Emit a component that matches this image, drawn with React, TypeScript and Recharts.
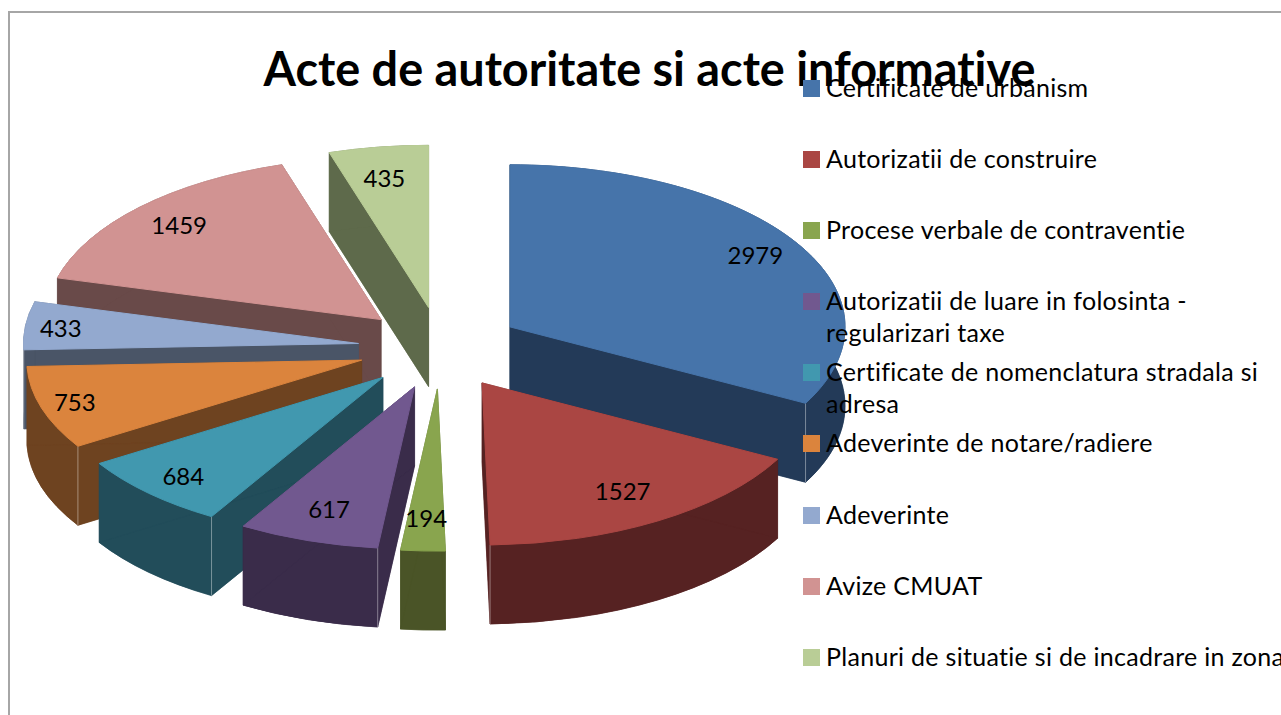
import React from "react";
import { Legend, Pie, PieChart } from "recharts";

const categories = [
  "Certificate de urbanism",
  "Autorizatii de construire",
  "Procese verbale de contraventie",
  "Autorizatii de luare in folosinta -\nregularizari taxe",
  "Certificate de nomenclatura stradala si\nadresa",
  "Adeverinte de notare/radiere",
  "Adeverinte",
  "Avize CMUAT",
  "Planuri de situatie si de incadrare in zona",
];
const values = [2979, 1527, 194, 617, 684, 753, 433, 1459, 435];
const topColors = ["#4674AA", "#AA4643", "#89A54E", "#71588F", "#4198AF", "#DB843D", "#93A9CF", "#D19392", "#B9CD96"];
const wallColors = ["#233A58", "#562222", "#4A5427", "#3A2C4A", "#224D5A", "#6E4320", "#4A5567", "#694A49", "#5E6A4B"];

const FONT = "Lato, sans-serif";
const TILT = 0.484;
const DEPTH = 79;
const RADIUS = 335;
const total = values.reduce((a, b) => a + b, 0);

// small hand tweaks of the value labels, by value
const labelNudge: Record<number, [number, number]> = {
  2979: [4, -2],
  1527: [-7, -8],
  194: [1, -8],
  617: [4, -7],
  684: [-3, 1],
  753: [-18, 1],
  433: [-18, -1],
  1459: [1, -1],
  435: [-2, 5],
};

// painted back to front: blue first, then counter-clockwise round to red
const paintOrder = [0, 8, 7, 6, 5, 4, 3, 2, 1];
const pieData = paintOrder.map((i) => ({
  name: categories[i],
  value: values[i],
  fill: topColors[i],
  wall: wallColors[i],
}));
const startAngle = 90 - (360 * values[0]) / total;

const rad = (d: number) => (d * Math.PI) / 180;

// apex of an exploded slice, squashed to the pie's tilt
function apexOf(cx: number, cy: number, midCw: number) {
  const s = Math.sin(rad(midCw));
  const x = s >= 0 ? cx + 84 * s : cx + 80 * s + 3 * (1 + s);
  return { x, y: cy - 41 * Math.cos(rad(midCw)) };
}

function rimPoint(ax: number, ay: number, r: number, cw: number) {
  return { x: ax + r * Math.sin(rad(cw)), y: ay - r * TILT * Math.cos(rad(cw)) };
}

function Slice3D(props: any) {
  const { cx, cy, outerRadius: r, startAngle: sa, endAngle: ea, fill, wall } = props;
  // recharts hands math angles going counter-clockwise; turn into clockwise from 12 o'clock
  const cwEnd = ((90 - sa) % 360 + 360) % 360;
  const cwStart = ((90 - ea) % 360 + 360) % 360;
  const sweep = ea - sa;
  const mid = cwStart + sweep / 2;
  const a = apexOf(cx, cy, mid);
  const p0 = rimPoint(a.x, a.y, r, cwStart);
  const p1 = rimPoint(a.x, a.y, r, cwEnd);
  const large = sweep > 180 ? 1 : 0;
  const arc = `A ${r} ${r * TILT} 0 ${large} 1`;
  const arcBack = `A ${r} ${r * TILT} 0 ${large} 0`;
  const top = `M ${a.x} ${a.y} L ${p0.x} ${p0.y} ${arc} ${p1.x} ${p1.y} Z`;
  const d = DEPTH;
  const sides = [
    `M ${a.x} ${a.y} L ${p0.x} ${p0.y} L ${p0.x} ${p0.y + d} L ${a.x} ${a.y + d} Z`,
    `M ${a.x} ${a.y} L ${p1.x} ${p1.y} L ${p1.x} ${p1.y + d} L ${a.x} ${a.y + d} Z`,
    `M ${p0.x} ${p0.y} ${arc} ${p1.x} ${p1.y} L ${p1.x} ${p1.y + d} ${arcBack} ${p0.x} ${p0.y + d} Z`,
    `M ${a.x} ${a.y + d} L ${p0.x} ${p0.y + d} ${arc} ${p1.x} ${p1.y + d} Z`,
  ];
  const crease =
    cwEnd > 90 && cwEnd < 180 ? p1 : cwStart > 180 && cwStart < 270 ? p0 : null;
  return (
    <g>
      {sides.map((s, i) => (
        <path key={i} d={s} fill={wall} stroke={wall} strokeWidth={0.5} />
      ))}
      {crease && (
        <line x1={crease.x} y1={crease.y} x2={crease.x} y2={crease.y + d} stroke="#fff" strokeOpacity={0.4} />
      )}
      <path d={top} fill={fill} stroke={fill} strokeWidth={1} />
    </g>
  );
}

function sliceLabel(props: any) {
  const { cx, cy, outerRadius: r, midAngle, value } = props;
  const mid = 90 - midAngle;
  const a = apexOf(cx, cy, mid);
  const p = rimPoint(a.x, a.y, r * 0.84, mid);
  const [dx, dy] = labelNudge[value] ?? [0, 0];
  return (
    <text x={p.x + dx} y={p.y + dy} textAnchor="middle" dominantBaseline="central" fontFamily={FONT} fontSize={24} fill="#000" style={{ fontVariantLigatures: "none" }}>
      {value}
    </text>
  );
}

function LegendList() {
  return (
    <div style={{ fontFamily: FONT, fontSize: 25, letterSpacing: 0.3, lineHeight: "31.5px", color: "#000", fontVariantLigatures: "none" }}>
      {categories.map((c, i) => (
        <div key={c} style={{ position: "relative", paddingLeft: 23, height: 71.1, whiteSpace: "pre" }}>
          <span
            style={{ position: "absolute", left: 0, top: 8, width: 17, height: 17, background: topColors[i] }}
          />
          {c}
        </div>
      ))}
    </div>
  );
}

export default function App() {
  return (
    <div style={{ position: "absolute", left: 0, top: 0, width: 1281, height: 715, overflow: "hidden", background: "#fff" }}>
      <div
        style={{ position: "absolute", left: 8, top: 11, width: 1300, height: 800, border: "2px solid #a6a6a6", boxSizing: "border-box" }}
      />
      <PieChart width={1281} height={715} margin={{ top: 0, right: 0, bottom: 0, left: 0 }}>
        <text x={649.5} y={68} textAnchor="middle" dominantBaseline="central" fontFamily={FONT} fontWeight={700} fontSize={46.8} fill="#000" style={{ fontVariantLigatures: "none" }}>
          Acte de autoritate si acte informative
        </text>
        <Pie
          data={pieData}
          dataKey="value"
          nameKey="name"
          cx={438}
          cy={348}
          outerRadius={RADIUS}
          startAngle={startAngle}
          endAngle={startAngle + 360}
          paddingAngle={0}
          stroke="none"
          shape={Slice3D}
          label={sliceLabel}
          labelLine={false}
          isAnimationActive={false}
        />
        <Legend
          layout="vertical"
          align="center"
          verticalAlign="middle"
          content={() => <LegendList />}
          wrapperStyle={{ position: "absolute", left: 803, top: 72, width: 478, right: "auto", bottom: "auto" }}
        />
      </PieChart>
    </div>
  );
}
